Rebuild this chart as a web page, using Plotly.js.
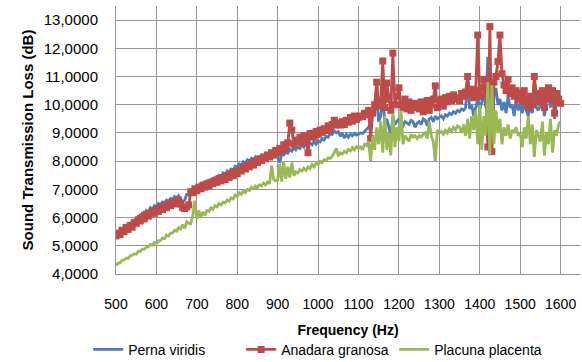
<!DOCTYPE html>
<html>
<head>
<meta charset="utf-8">
<script src="https://cdn.plot.ly/plotly-3.0.1.min.js"></script>
<style>html,body{margin:0;padding:0;background:#fff}#chart{width:582px;height:362px}</style>
</head>
<body>
<div id="chart"></div>
<script>
// Frequency axis: 500 to 1600 Hz in 5 Hz steps
const freqStart = 500, freqStep = 5, freqCount = 221;
const frequency = [];
for (let i = 0; i < freqCount; i++) frequency.push(freqStart + i * freqStep);

const seriesNames = ["Perna viridis", "Anadara granosa", "Placuna placenta"];

const pernaViridis = [
5.42,5.50,5.48,5.60,5.58,5.72,5.68,5.80,5.78,5.92,
5.92,6.05,6.00,6.15,6.10,6.25,6.18,6.35,6.30,6.42,
6.40,6.50,6.45,6.55,6.52,6.62,6.58,6.68,6.65,6.75,
6.70,6.78,6.65,6.55,6.62,6.82,6.80,6.95,6.92,7.05,
7.02,7.15,7.10,7.22,7.18,7.30,7.25,7.35,7.32,7.42,
7.38,7.50,7.45,7.58,7.52,7.65,7.60,7.72,7.68,7.82,
7.78,7.90,7.85,7.98,7.92,8.05,8.00,8.10,8.05,8.15,
8.05,8.15,8.08,8.18,8.10,8.20,8.12,8.22,8.15,8.25,
8.15,7.95,8.25,8.22,8.32,8.28,8.42,8.35,8.48,8.40,
8.50,8.45,8.58,8.50,8.62,8.55,8.65,8.58,8.70,8.60,
8.72,8.68,8.80,8.75,8.88,8.85,8.98,8.95,9.08,9.00,
9.05,8.88,8.98,8.82,8.95,8.85,8.96,8.90,8.98,8.92,
8.95,9.00,8.98,9.05,9.10,9.20,9.40,9.60,9.80,10.20,
9.40,9.60,10.50,9.30,9.50,9.20,8.90,9.60,9.30,9.40,
9.50,9.30,9.25,9.40,9.35,9.30,9.45,9.40,9.20,9.35,
9.40,9.30,9.50,9.45,9.25,9.50,9.55,9.40,9.60,9.50,
9.55,9.60,9.50,9.65,9.60,9.70,9.65,9.75,9.70,9.80,
9.75,9.85,9.80,9.90,10.90,9.85,10.00,9.60,9.90,10.20,
9.80,10.10,10.40,9.90,11.70,10.50,8.70,10.30,10.60,10.00,
10.20,9.80,10.10,9.70,10.30,9.90,10.00,9.60,10.20,9.80,
10.00,9.70,10.10,9.80,9.60,10.00,9.70,10.60,9.90,9.80,
10.00,10.20,9.60,10.10,10.30,9.90,10.60,9.50,10.20,10.30,
10.00];

const anadaraGranosa = [
5.35,5.45,5.40,5.55,5.50,5.65,5.58,5.72,5.66,5.82,
5.80,5.92,5.88,6.02,5.95,6.12,6.05,6.15,6.22,6.15,
6.28,6.22,6.35,6.28,6.42,6.35,6.48,6.42,6.55,6.48,
6.58,6.62,6.48,6.35,6.32,6.38,6.45,6.92,6.88,7.02,
6.95,7.08,7.02,7.15,7.08,7.20,7.12,7.25,7.20,7.32,
7.25,7.38,7.30,7.42,7.35,7.48,7.42,7.55,7.48,7.62,
7.55,7.68,7.65,7.78,7.72,7.85,7.80,7.92,7.86,8.00,
7.95,8.08,8.02,8.15,8.08,8.22,8.15,8.30,8.22,8.38,
8.30,8.45,8.38,8.58,8.45,8.65,9.35,9.10,8.60,8.75,
8.70,8.85,8.65,8.90,8.82,8.30,8.98,8.90,8.85,9.05,
8.95,9.10,9.02,9.15,9.08,9.25,9.12,9.30,9.45,9.28,
9.35,9.28,9.40,9.30,9.45,9.38,9.55,9.42,9.60,9.48,
9.55,9.60,9.58,9.70,9.65,9.80,8.80,9.70,10.00,10.80,
9.95,10.10,11.55,9.90,10.77,10.20,9.80,11.83,10.00,10.30,
10.60,10.00,9.90,10.20,9.85,10.10,9.80,9.95,10.05,9.90,
9.85,10.10,9.75,9.95,10.15,9.80,10.00,10.20,10.67,9.90,
10.05,10.20,9.95,10.25,10.10,10.30,10.15,10.35,10.20,10.25,
10.15,10.40,10.30,10.45,11.00,10.35,10.55,10.25,10.50,12.47,
10.30,10.60,10.90,10.40,8.50,12.77,8.34,10.80,11.00,11.53,
12.47,11.10,10.70,10.50,10.90,10.40,10.60,10.30,10.50,10.20,
10.40,10.10,10.50,10.20,9.90,10.30,10.00,11.00,10.40,10.10,
10.30,10.50,9.90,10.40,10.60,10.20,10.50,9.70,10.40,10.20,
10.05];

const placunaPlacenta = [
4.30,4.38,4.40,4.48,4.50,4.56,4.55,4.65,4.66,4.72,
4.70,4.80,4.80,4.88,4.88,4.95,4.96,5.05,5.02,5.12,
5.08,5.18,5.18,5.28,5.25,5.38,5.35,5.45,5.45,5.55,
5.52,5.65,5.60,5.75,5.62,5.85,5.80,5.78,6.05,6.60,
5.95,6.25,6.00,6.20,6.08,6.25,6.22,6.35,6.30,6.42,
6.38,6.50,6.45,6.55,6.52,6.62,6.58,6.70,6.66,6.80,
6.75,6.88,6.82,6.95,6.88,7.00,6.96,7.08,7.02,7.12,
7.06,7.16,7.12,7.22,7.16,7.26,7.20,7.85,7.35,7.30,
7.32,7.90,7.28,8.00,7.38,7.80,7.42,7.95,7.48,7.62,
7.58,7.70,7.65,7.75,7.68,7.80,7.74,7.88,7.80,7.92,
7.88,8.00,7.95,8.05,8.02,8.12,8.10,8.18,8.30,8.45,
8.18,8.30,8.25,8.35,8.30,8.42,8.36,8.48,8.40,8.52,
8.45,8.50,8.40,8.60,8.55,8.70,8.00,8.90,8.40,9.20,
8.60,9.40,8.30,9.60,8.40,9.00,8.20,9.70,8.50,9.20,
8.70,9.80,8.60,8.90,8.80,8.70,8.95,8.85,8.90,8.80,
8.90,8.85,8.95,9.00,8.80,9.40,8.90,8.70,8.00,9.10,
9.00,9.05,8.95,9.10,9.00,9.15,9.05,9.20,9.10,9.25,
9.20,9.00,9.30,8.90,9.50,8.80,9.60,9.10,9.80,8.60,
10.00,8.40,9.60,8.90,10.80,8.20,10.70,8.60,9.80,9.00,
9.50,8.60,9.20,8.90,9.30,8.80,9.10,9.00,9.20,8.90,
9.00,8.50,9.20,8.80,9.60,8.60,9.30,8.15,9.10,8.90,
8.70,9.40,8.20,9.00,8.60,9.50,8.30,9.10,8.90,9.30,
9.40];

const xTicks = [500,600,700,800,900,1000,1100,1200,1300,1400,1500,1600];
const yTicks = [4,5,6,7,8,9,10,11,12,13];

const traces = [
  {x: frequency, y: pernaViridis, name: seriesNames[0], type: "scatter", mode: "lines",
   line: {color: "#4A7EBB", width: 2.8}},
  {x: frequency, y: anadaraGranosa, name: seriesNames[1], type: "scatter", mode: "lines+markers",
   line: {color: "#BE4B48", width: 2.8}, marker: {symbol: "square", size: 7, color: "#BE4B48"}},
  {x: frequency, y: placunaPlacenta, name: seriesNames[2], type: "scatter", mode: "lines",
   line: {color: "#98B954", width: 2.8}}
];

const grid = "#959595";
const layout = {
  width: 582, height: 362,
  margin: {l: 116, r: 2, t: 6, b: 88, autoexpand: false},
  paper_bgcolor: "#fff", plot_bgcolor: "#fff",
  separators: ",.",
  font: {family: "Liberation Sans, Arial, sans-serif", color: "#000", size: 14},
  showlegend: true,
  legend: {orientation: "h", x: -0.06, xanchor: "left", y: -0.283, yanchor: "middle",
           entrywidth: 108, entrywidthmode: "pixels",
           font: {size: 14, color: "#000"}, traceorder: "normal"},
  xaxis: {range: [500, 1648], tickvals: xTicks, ticktext: xTicks.map(String), automargin: false,
          showgrid: true, gridcolor: grid, gridwidth: 1, zeroline: false,
          showline: true, linecolor: grid, ticks: "", ticklabelstandoff: 17,
          tickfont: {size: 14},
          title: {text: "<b>Frequency (Hz)</b>", font: {size: 14}, standoff: 14}},
  yaxis: {range: [4, 13.5], tickvals: yTicks, tickformat: ".4f", automargin: false,
          showgrid: true, gridcolor: grid, gridwidth: 1, zeroline: false,
          showline: true, linecolor: grid, ticks: "", ticklabelstandoff: 14,
          tickfont: {size: 15},
          title: {text: "<b>Sound Transmission Loss (dB)</b>", font: {size: 15}, standoff: 6}}
};

Plotly.newPlot("chart", traces, layout, {displayModeBar: false, staticPlot: true});
</script>
</body>
</html>
